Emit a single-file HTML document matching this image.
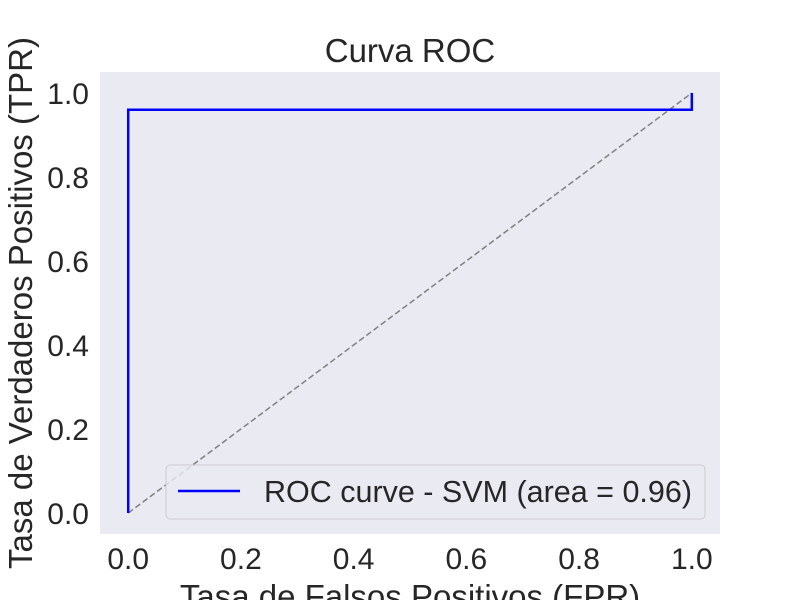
<!DOCTYPE html>
<html><head><meta charset="utf-8"><style>body{margin:0;background:#fff}svg{display:block;font-family:"Liberation Sans","DejaVu Sans",sans-serif}</style></head>
<body>
<svg id="chart" width="800" height="600">
<rect x="100" y="72" width="620" height="462" fill="#eaeaf2"/>
<g id="ticks"></g>
<line id="diag" stroke="#808080" stroke-width="1.5" stroke-dasharray="6,3"/>
<polyline id="roc" fill="none" stroke="#0000ff" stroke-width="2.5"/>
<text x="410" y="62" font-size="33" text-anchor="middle" fill="#262626">Curva ROC</text>
<text x="410" y="608" font-size="33" text-anchor="middle" fill="#262626">Tasa de Falsos Positivos (FPR)</text>
<text transform="translate(32,303) rotate(-90)" font-size="33" text-anchor="middle" fill="#262626">Tasa de Verdaderos Positivos (TPR)</text>
<g>
<rect x="166" y="465" width="539" height="54" rx="4" fill="#eaeaf2" stroke="#cccccc" fill-opacity="0.8"/>
<line x1="178" y1="491" x2="240" y2="491" stroke="#0000ff" stroke-width="2.5"/>
<text x="264" y="502" font-size="30.5" fill="#262626">ROC curve - SVM (area = 0.96)</text>
</g>
</svg>
<script>
const fpr=[0,0,1,1];
const tpr=[0,0.96,0.96,1];
const xTicks=[0,0.2,0.4,0.6,0.8,1.0];
const yTicks=[0,0.2,0.4,0.6,0.8,1.0];
const X=v=>128.2+v*563.6, Y=v=>513-v*420;
const ns="http://www.w3.org/2000/svg";
const g=document.getElementById('ticks');
xTicks.forEach(t=>{const e=document.createElementNS(ns,'text');e.setAttribute('x',X(t));e.setAttribute('y',569);e.setAttribute('font-size','30');e.setAttribute('text-anchor','middle');e.setAttribute('fill','#262626');


e.textContent=t.toFixed(1);g.appendChild(e);});
yTicks.forEach(t=>{const e=document.createElementNS(ns,'text');e.setAttribute('x',89);e.setAttribute('y',Y(t)+11);e.setAttribute('font-size','30');e.setAttribute('text-anchor','end');e.setAttribute('fill','#262626');


e.textContent=t.toFixed(1);g.appendChild(e);});
const d=document.getElementById('diag');d.setAttribute('x1',X(0));d.setAttribute('y1',Y(0));d.setAttribute('x2',X(1));d.setAttribute('y2',Y(1));
document.getElementById('roc').setAttribute('points',fpr.map((f,i)=>X(f)+','+Y(tpr[i])).join(' '));
</script>
</body></html>
